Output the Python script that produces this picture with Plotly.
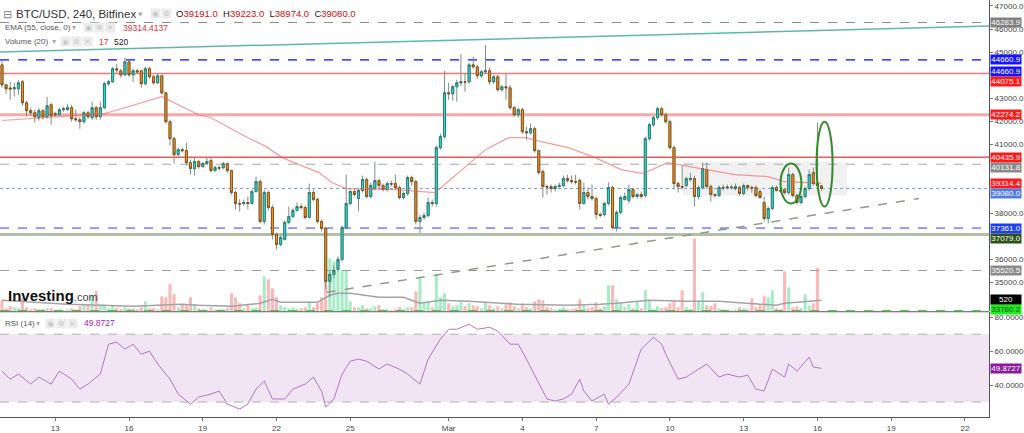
import plotly.graph_objects as go

# ---------------- data (4h candles, index 0 = Feb 10 20:00, 109 = Mar 1 00:00) ----------------
opens = [
    44445, 43580, 43440, 43406, 43406, 43709, 42800, 42454, 42367, 42151,
    42454, 42194, 42713, 42324, 42280, 42497, 42497, 42584, 42107, 42064,
    41977, 42367, 42151, 42584, 42194, 42584, 43623, 43709, 44272, 44186,
    44012, 44575, 44012, 44186, 44186, 43623, 44272, 43926, 43666, 43969,
    43233, 41977, 41241, 40548, 40765, 40722, 40202, 39942, 40245, 40029,
    40159, 40289, 39856, 39986, 39986, 40159, 39856, 38903, 38427, 38427,
    38470, 38427, 38946, 39379, 37647, 38903, 38254, 37084, 36651, 36868,
    37604, 37864, 38124, 38297, 38254, 37821, 38903, 38600, 37647, 37344,
    35049, 35352, 35569, 36002, 37388, 38427, 38946, 38643, 38990, 39466,
    38730, 39076, 39423, 39206, 39033, 39293, 39293, 39120, 38687, 38860,
    39553, 39379, 37647, 37821, 37907, 38470, 38427, 40852, 41328, 43233,
    43190, 43493, 43666, 43709, 43709, 44445, 44359, 43969, 44142, 44186,
    43709, 43926, 43363, 43493, 43450, 42584, 42280, 42497, 41544, 41501,
    41674, 40722, 39812, 39163, 39163, 39076, 39163, 39206, 39509, 39423,
    39379, 39423, 38427, 38903, 38730, 38643, 37950, 37950, 38427, 39120,
    37388, 38037, 38600, 38557, 39033, 38730, 38816, 38773, 41241, 41847,
    42151, 42540, 42280, 41977, 40852, 39293, 39163, 39206, 39466, 39509,
    38730, 39120, 39899, 39163, 38816, 38773, 39120, 39120, 39140, 39076,
    39120, 38860, 39206, 39120, 39120, 38946, 38470, 37777, 38210, 39120,
    38990, 39033, 38903, 39682, 38773, 38470, 38730, 39076, 39769, 39293,
    39191]
highs = [
    44662, 43623, 43709, 43666, 43796, 43796, 42887, 42584, 42497, 42584,
    42540, 43060, 42800, 42410, 42584, 42627, 42757, 42713, 42497, 42194,
    42454, 42454, 42843, 42670, 42843, 43709, 43796, 44359, 44489, 44272,
    44749, 44662, 44272, 44272, 44229, 44359, 44359, 44012, 44056, 44012,
    43276, 42064, 41328, 40852, 40852, 41068, 40332, 40419, 40332, 40245,
    40419, 40419, 40072, 40072, 40245, 40202, 39899, 38990, 38600, 38600,
    38730, 39033, 39596, 39466, 39033, 38990, 38340, 37171, 37041, 37691,
    38297, 38210, 38470, 38427, 38340, 39293, 39033, 38687, 37734, 37388,
    35482, 35742, 36132, 37474, 39682, 39033, 39033, 39076, 39639, 39553,
    39336, 40245, 39509, 39293, 39379, 39423, 39682, 39206, 38946, 39639,
    39639, 39466, 37950, 38037, 38687, 38600, 40938, 41458, 44186, 43666,
    43580, 43796, 44922, 44099, 44532, 44792, 44445, 44229, 45311, 44316,
    44012, 44012, 43580, 44099, 43580, 42670, 42584, 42584, 41761, 41891,
    41761, 40765, 39899, 39249, 39249, 39249, 39336, 39639, 39682, 39639,
    39682, 39509, 39336, 39120, 39249, 38730, 38037, 38513, 39336, 39206,
    38124, 38773, 38903, 39249, 39120, 38903, 38946, 41328, 41934, 42237,
    42627, 42627, 42367, 42064, 40938, 39379, 40072, 39596, 39769, 39639,
    39206, 40202, 40202, 39249, 38860, 39206, 39249, 39249, 39249, 39293,
    39206, 39293, 39249, 39206, 39206, 39033, 38730, 38297, 39206, 39206,
    39076, 39120, 39986, 39769, 38860, 38816, 39163, 39899, 39986, 41934,
    39223]
lows = [
    43450, 43190, 42930, 43060, 43146, 42670, 42194, 42237, 41934, 42021,
    42064, 42107, 41847, 42194, 42237, 42410, 42454, 41977, 41977, 41674,
    41891, 42107, 42064, 42064, 42064, 42540, 43536, 43666, 44099, 43883,
    43969, 43926, 43709, 44056, 43450, 43580, 43839, 43580, 43623, 43146,
    41891, 40938, 40159, 40462, 40635, 40072, 39682, 39639, 39942, 39986,
    40115, 39769, 39812, 39856, 39899, 39769, 38816, 38167, 38080, 38340,
    38167, 38383, 38903, 37561, 37517, 38124, 36868, 36435, 36565, 36825,
    37517, 37777, 38080, 38167, 37734, 37777, 38513, 37561, 37214, 34703,
    34357, 35179, 35482, 35915, 37301, 38340, 38730, 38080, 38903, 38643,
    38643, 38990, 39076, 38946, 38946, 39163, 39033, 38600, 38600, 38773,
    39206, 37517, 37128, 37734, 37821, 38297, 38297, 40765, 41241, 42930,
    42887, 42843, 43536, 43276, 43623, 44272, 43839, 43883, 44056, 43580,
    43623, 43276, 43276, 42930, 42497, 42194, 42151, 41458, 41198, 41414,
    40635, 39682, 38687, 38816, 38903, 38946, 39120, 39120, 39336, 39293,
    39249, 38167, 38383, 38600, 38557, 37734, 37821, 37864, 38340, 37301,
    37214, 37950, 38557, 38427, 38643, 38643, 38643, 38687, 41155, 41761,
    42064, 42194, 41891, 40765, 39033, 38903, 39033, 39120, 39379, 38297,
    38600, 39033, 39076, 38513, 38687, 38687, 38990, 39033, 39033, 38990,
    38773, 38773, 38990, 38903, 38687, 38643, 37647, 37561, 38124, 38946,
    38903, 38816, 38816, 38687, 38383, 38383, 38643, 38990, 39206, 39120,
    38974]
closes = [
    43580, 43406, 43400, 43450, 43666, 42800, 42454, 42367, 42194, 42454,
    42194, 42670, 42237, 42280, 42497, 42540, 42584, 42107, 42064, 41977,
    42367, 42194, 42584, 42194, 42584, 43623, 43709, 44272, 44229, 44012,
    44575, 44012, 44186, 44142, 43623, 44272, 43926, 43666, 43969, 43233,
    41977, 41241, 40548, 40765, 40722, 40202, 39942, 40245, 40029, 40159,
    40245, 39856, 39986, 39960, 40159, 39856, 38903, 38427, 38400, 38470,
    38427, 38946, 39379, 37647, 38903, 38254, 37084, 36651, 36955, 37604,
    37864, 38124, 38297, 38254, 37821, 38903, 38600, 37647, 37344, 35049,
    35352, 35526, 36002, 37388, 38427, 38946, 38816, 38990, 39466, 38730,
    39206, 39423, 39206, 39033, 39293, 39270, 39120, 38687, 38860, 39553,
    39379, 37647, 37821, 37907, 38470, 38427, 40852, 41328, 43233, 43190,
    43493, 43666, 43709, 43690, 44445, 44359, 43969, 44142, 44186, 43709,
    43926, 43363, 43493, 43450, 42584, 42280, 42497, 41544, 41501, 41674,
    40722, 39769, 39163, 39140, 39076, 39163, 39206, 39509, 39423, 39379,
    39360, 38427, 38903, 38730, 38643, 37950, 37907, 38427, 39120, 37388,
    38037, 38687, 38730, 39033, 38730, 38816, 38730, 41241, 41847, 42151,
    42540, 42280, 41977, 40852, 39293, 39163, 39140, 39509, 39509, 38730,
    39120, 39942, 39163, 38816, 38773, 39120, 39100, 39140, 39120, 39163,
    38860, 39206, 39120, 39100, 38773, 38687, 37777, 38210, 39120, 38990,
    38970, 38903, 39682, 38773, 38470, 38730, 39076, 39682, 39293, 39206,
    39080]
volumes = [
    517, 141, 235, 188, 141, 611, 188, 94, 141, 94,
    94, 141, 141, 47, 94, 47, 94, 141, 94, 235,
    282, 282, 752, 940, 329, 329, 141, 282, 141, 94,
    188, 141, 141, 94, 188, 470, 141, 141, 94, 705,
    658, 1269, 799, 188, 329, 329, 658, 329, 141, 94,
    94, 188, 94, 94, 94, 141, 846, 658, 376, 141,
    282, 141, 188, 752, 1645, 1504, 1081, 658, 282, 188,
    141, 188, 94, 141, 188, 470, 188, 376, 658, 2068,
    2491, 2350, 1927, 1927, 1927, 470, 188, 188, 282, 141,
    141, 235, 282, 94, 94, 47, 94, 188, 94, 188,
    188, 940, 1598, 376, 470, 188, 1739, 658, 846, 376,
    235, 282, 470, 235, 376, 282, 235, 141, 423, 282,
    141, 235, 141, 329, 423, 235, 141, 376, 188, 141,
    470, 564, 517, 188, 141, 94, 94, 188, 94, 94,
    141, 564, 282, 141, 188, 423, 141, 235, 1222, 1222,
    564, 423, 188, 329, 141, 470, 141, 987, 517, 94,
    235, 141, 188, 376, 470, 188, 987, 188, 94, 3431,
    517, 893, 282, 235, 376, 141, 94, 47, 47, 94,
    188, 141, 94, 611, 188, 282, 705, 658, 987, 141,
    94, 1880, 1128, 188, 235, 141, 799, 282, 376, 2021,
    17]

# EMA(55) line
ema_idx = [0, 25, 39, 48, 51, 60, 64.5, 68.4, 72.5, 77.4, 80.5, 84, 96, 105.8, 106.6, 112.2,
           118, 123.6, 127.7, 131.6, 138.2, 144.8, 151.1, 156.4, 160.1, 162.5, 170.6, 178.8,
           186.9, 191, 196.6, 200]
ema_val = [42030, 42324, 43060, 42280, 42151, 41284, 40895, 40419, 40115, 39769, 39336, 39076,
           39033, 38903, 39033, 39899, 40765, 41284, 41284, 41111, 40852, 40419, 39899, 39726,
           40029, 40202, 39942, 39682, 39596, 39379, 39336, 39314.4]

# Volume MA(20) as read
vma_idx = [0, 16, 32, 44, 48, 56, 63, 66, 68, 77, 80, 82, 85, 92, 98, 102, 107, 114, 126, 138,
           146, 150, 158, 167, 175, 183, 189, 191, 196, 200]
vma_val = [517, 329, 235, 329, 282, 235, 376, 564, 423, 423, 752, 846, 846, 658, 658, 376, 517,
           470, 329, 282, 329, 376, 517, 470, 470, 376, 282, 376, 470, 520]

# RSI(14) as read
rsi_idx = [0, 2, 4, 7, 9, 12, 14, 17, 19, 21, 24, 26, 28, 30, 32, 34, 36, 38, 41, 43, 46, 48,
           51, 53, 55, 58, 60, 62, 64, 66, 69, 71, 74, 76, 78, 79, 81, 83, 85, 87, 89, 92, 94,
           97, 99, 102, 104, 107, 109, 111, 114, 116, 119, 121, 124, 126, 128, 131, 133, 135,
           137, 139, 141, 142, 144, 147, 148, 150, 153, 156, 159, 161, 162, 165, 167, 170, 172,
           175, 177, 180, 182, 184, 186, 188, 191, 192, 194, 197, 198, 200]
rsi_val = [48.2, 43.5, 46.5, 40.6, 44.7, 40.6, 48.2, 43.5, 37.6, 40.6, 46.5, 64.1, 65.3, 61.2,
           64.1, 58.2, 60.0, 52.4, 43.5, 34.7, 28.8, 32.9, 34.7, 36.5, 28.8, 25.9, 28.8, 37.6,
           42.4, 31.8, 31.8, 37.6, 40.6, 44.7, 36.5, 27.1, 31.8, 46.5, 54.1, 55.3, 54.1, 49.4,
           52.4, 49.4, 46.5, 40.6, 55.3, 67.1, 72.9, 72.9, 75.9, 72.9, 74.1, 71.8, 64.1, 64.1,
           55.3, 40.6, 31.8, 30.6, 31.8, 34.7, 43.5, 36.5, 30.6, 34.7, 28.8, 32.9, 40.6, 61.2,
           68.2, 64.1, 58.2, 43.5, 44.7, 49.4, 52.4, 44.7, 46.5, 44.7, 45.9, 37.6, 36.5, 49.4,
           44.7, 52.4, 48.2, 56.5, 50.6, 49.87]

tick_idx = [13, 31, 49, 67, 85, 109, 127, 145, 163, 181, 199, 217, 235]
tick_text = ["13", "16", "19", "22", "25", "Mar", "4", "7", "10", "13", "16", "19", "22"]
# price ticks that are not hidden behind a price tag
price_ticks = [35000, 36000, 38000, 41000, 42000, 43000, 45000, 46000, 47000]
rsi_ticks = [40, 60, 80]

# horizontal drawing levels
level_price = [46283.9, 44660.9, 44660.9, 44075.1, 42274.2, 40435.9, 40131.8, 39080.0,
               37361.0, 37079.0, 35520.5, 33780.2]
level_color = ["#8c8c8c", "#2b2bff", "#2b2bff", "#f47c7c", "#f9a8a8", "#e85a5a", "#a8a8a8",
               "#7a96f0", "#3535ff", "#b3bfab", "#9a9a9a", "#33dd33"]
level_dash = ["dash", "dash", "dash", "solid", "solid", "solid", "dash", "dot", "dash", "solid",
              "dash", "dash"]
level_width = [1, 1, 1, 1.5, 3, 1.5, 1, 1, 1, 3, 1, 1.2]

# right-axis price tags (text, value, axis, background, text colour)
tag_text = ["46283.9", "44660.9", "44660.9", "44075.1", "42274.2", "40435.9", "40131.8",
            "39314.4", "39080.0", "37361.0", "37079.0", "35520.5", "33780.2", "520", "49.8727"]
tag_value = [46283.9, 44660.9, 44173, 43709, 42274.2, 40435.9, 39999, 39314.4, 38860,
             37361.0, 36898, 35520.5, 33837, 560, 49.8727]
tag_axis = ["y2"] * 13 + ["y", "y3"]
tag_bg = ["#808080", "#1414ff", "#1414ff", "#ff1a1a", "#ff1a1a", "#ff1a1a", "#8a8a8a",
          "#ff1a1a", "#4f7de6", "#1e3cff", "#2d5119", "#8a8a8a", "#19f019", "#000000", "#8b1a9b"]
tag_fg = ["white"] * 12 + ["#224422", "white", "white"]

# trend line, diagonal support, zone, ellipses
trend_x = [-0.5, 241]
trend_y = [45000, 46130]
support_x = [79.3, 223.8]
support_y = [34573, 38643]
zone_x = [166.2, 206.3]
zone_y = [38773, 40245]
ell_x0 = [190.0, 198.8]
ell_x1 = [195.1, 202.7]
ell_y0 = [38427, 38297]
ell_y1 = [40159, 41977]

# ---------------- figure ----------------
W, H = 1024, 433
MR, MB = 32, 15
PW, PH = W - MR, H - MB
FONT = "Liberation Sans, Arial, sans-serif"


def pxx(x):
    return x / PW


def pxy(y):
    return 1 - y / PH


idx = list(range(len(closes)))
up = [c >= o for o, c in zip(opens, closes)]

fig = go.Figure()

# volume (base subplot, below candles)
fig.add_trace(go.Bar(
    x=idx, y=volumes, yaxis="y", width=0.75,
    marker=dict(color=["rgba(60,210,130,0.45)" if u else "rgba(245,100,100,0.45)" for u in up],
                line=dict(width=0)),
    hoverinfo="skip"))
fig.add_trace(go.Scatter(x=vma_idx, y=vma_val, yaxis="y", mode="lines",
                         line=dict(color="#a3a3a3", width=1.5), hoverinfo="skip"))

# candle wicks (gray) then bodies
fig.add_trace(go.Candlestick(
    x=idx, open=opens, high=highs, low=lows, close=closes, yaxis="y2",
    increasing=dict(line=dict(color="#7d8f82", width=1), fillcolor="#7d8f82"),
    decreasing=dict(line=dict(color="#7d8f82", width=1), fillcolor="#7d8f82"),
    whiskerwidth=0, hoverinfo="skip"))
fig.add_trace(go.Candlestick(
    x=idx, open=opens, close=closes,
    high=[max(o, c) for o, c in zip(opens, closes)],
    low=[min(o, c) for o, c in zip(opens, closes)], yaxis="y2",
    increasing=dict(line=dict(color="#246e66", width=0.8), fillcolor="#22e3d6"),
    decreasing=dict(line=dict(color="#7a4712", width=0.8), fillcolor="#f7941d"),
    whiskerwidth=0, hoverinfo="skip"))

fig.add_trace(go.Scatter(x=ema_idx, y=ema_val, yaxis="y2", mode="lines",
                         line=dict(color="rgba(240,90,90,0.6)", width=1.2), hoverinfo="skip"))
fig.add_trace(go.Scatter(x=rsi_idx, y=rsi_val, yaxis="y3", mode="lines",
                         line=dict(color="#b474c8", width=1), hoverinfo="skip"))

shapes = []
for p, col, d, w in zip(level_price, level_color, level_dash, level_width):
    shapes.append(dict(type="line", xref="paper", x0=0, x1=1, yref="y2", y0=p, y1=p,
                       line=dict(color=col, dash=d, width=w), layer="below"))
shapes.append(dict(type="line", xref="x", yref="y2", x0=trend_x[0], x1=trend_x[1],
                   y0=trend_y[0], y1=trend_y[1], line=dict(color="#5fb8a6", width=1.5)))
shapes.append(dict(type="line", xref="x", yref="y2", x0=support_x[0], x1=support_x[1],
                   y0=support_y[0], y1=support_y[1],
                   line=dict(color="#8d9c86", width=1.5, dash="dash")))
shapes.append(dict(type="rect", xref="x", yref="y2", x0=zone_x[0], x1=zone_x[1],
                   y0=zone_y[0], y1=zone_y[1], fillcolor="rgba(190,190,190,0.22)",
                   line=dict(width=0), layer="below"))
for a, b, c, d in zip(ell_x0, ell_x1, ell_y0, ell_y1):
    shapes.append(dict(type="circle", xref="x", yref="y2", x0=a, x1=b, y0=c, y1=d,
                       line=dict(color="#2f8a2a", width=2)))
# RSI band
shapes.append(dict(type="rect", xref="paper", x0=0, x1=1, yref="y3", y0=30, y1=70,
                   fillcolor="#f1e5f3", line=dict(width=0), layer="below"))
for lv in (30, 70):
    shapes.append(dict(type="line", xref="paper", x0=0, x1=1, yref="y3", y0=lv, y1=lv,
                       line=dict(color="#b0b0b0", dash="dash", width=1), layer="below"))
# pane separator
shapes.append(dict(type="line", xref="paper", yref="paper", x0=0, x1=1,
                   y0=pxy(312.5), y1=pxy(312.5), line=dict(color="#555", width=1)))

ann = []


def text(t, x, y, size, color, xanchor="left", **kw):
    ann.append(dict(text=t, x=pxx(x), y=pxy(y), xref="paper", yref="paper",
                    xanchor=xanchor, yanchor="middle", showarrow=False,
                    font=dict(size=size, color=color, family=FONT), **kw))


def icon(x, y, g):
    ann.append(dict(text=g, x=pxx(x), y=pxy(y), xref="paper", yref="paper",
                    xanchor="left", yanchor="middle", showarrow=False, width=9, height=9,
                    bgcolor="#ececec", borderpad=0,
                    font=dict(size=7, color="#c4c4c4", family="DejaVu Sans")))


text("⊟", 1, 14, 11, "#888")
text("BTC/USD, 240, Bitfinex", 14, 14, 11.5, "#333")
text("▾", 136, 14, 9, "#aaa")
icon(150, 14, "◉")
icon(161, 14, "⚙")
R = "#d01010"
text("O<span style='color:%s'>39191.0</span>  H<span style='color:%s'>39223.0</span>  "
     "L<span style='color:%s'>38974.0</span>  C<span style='color:%s'>39080.0</span>" % (R, R, R, R),
     175, 14, 9.5, "#222")
text("EMA (55, close, 0)", 3, 28, 8, "#555")
text("▾", 70, 28, 8, "#aaa")
for k, g in enumerate(["◉", "⚙", "✕"]):
    icon(83 + 11 * k, 28, g)
text("39314.4137", 121, 28, 8.5, "#e53030")
text("Volume (20)", 3, 42, 8, "#555")
text("▾", 50, 42, 8, "#aaa")
for k, g in enumerate(["◉", "⚙", "✕"]):
    icon(60 + 11 * k, 42, g)
text("17", 97, 42, 8.5, "#e53030")
text("520", 112, 42, 8.5, "#222")
text("RSI (14)", 3, 324, 8, "#555")
text("▾", 34, 324, 8, "#aaa")
for k, g in enumerate(["◉", "⚙", "✕"]):
    icon(45 + 11 * k, 324, g)
text("49.8727", 82, 324, 8.5, "#9c27b0")
text("<b>Investing</b><span style='font-size:11px;color:#444'>.com</span>", 6, 296, 15, "#111")

for t, v, ax, bg, fg in zip(tag_text, tag_value, tag_axis, tag_bg, tag_fg):
    ann.append(dict(text=t, x=1, xref="paper", y=v, yref=ax, xanchor="left",
                    yanchor="middle", xshift=1, showarrow=False, bgcolor=bg, width=30,
                    height=9, borderpad=0, align="center",
                    font=dict(size=8, color=fg, family=FONT)))

axis_common = dict(showgrid=False, zeroline=False, ticks="outside", ticklen=3,
                   tickcolor="#777", showline=True, linecolor="#555", linewidth=1,
                   tickfont=dict(size=8, color="#444", family=FONT))

fig.update_layout(
    width=W, height=H, margin=dict(l=0, r=MR, t=0, b=MB),
    paper_bgcolor="white", plot_bgcolor="white", showlegend=False,
    barmode="overlay", boxmode="overlay", hovermode=False,
    xaxis=dict(range=[-0.487, 240.88], anchor="y3", tickvals=tick_idx, ticktext=tick_text,
               rangeslider=dict(visible=False), **axis_common),
    yaxis=dict(domain=[pxy(312), 1], range=[0, 312 * 47], visible=False, fixedrange=True),
    yaxis2=dict(overlaying="y", side="right", range=[33750, 47260],
                tickvals=price_ticks, tickformat=".1f", anchor="x", **axis_common),
    yaxis3=dict(domain=[0, pxy(313)], side="right", range=[21.18, 82.94],
                tickvals=rsi_ticks, tickformat=".4f", anchor="x", **axis_common),
    shapes=shapes, annotations=ann,
    font=dict(family=FONT),
)

fig.write_html("out.html")
